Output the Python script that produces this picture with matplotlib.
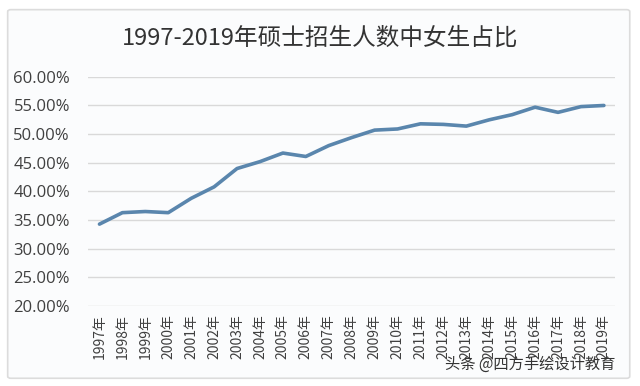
import matplotlib
matplotlib.use("Agg")
import matplotlib.pyplot as plt
from matplotlib.patches import FancyBboxPatch

plt.rcParams['font.family'] = ['Noto Sans CJK SC', 'DejaVu Sans']

# data
years = [str(y) + "年" for y in range(1997, 2020)]
female_share = [34.3, 36.3, 36.5, 36.3, 38.8, 40.8, 44.0, 45.2, 46.7, 46.1,
                48.0, 49.4, 50.7, 50.9, 51.8, 51.7, 51.4, 52.5, 53.4, 54.7,
                53.8, 54.8, 55.0]
y_ticks = [20, 25, 30, 35, 40, 45, 50, 55, 60]

fig = plt.figure(figsize=(6.4, 3.86), dpi=100)
fig.patch.set_facecolor("white")

# light card border around the chart
card = FancyBboxPatch((0.012, 0.02), 0.972, 0.955, boxstyle="round,pad=0,rounding_size=0.005",
                      transform=fig.transFigure, facecolor="#fbfcfd", edgecolor="#dcdcdc",
                      linewidth=1.2, zorder=-10)
fig.patches.append(card)

ax = fig.add_axes([0.1375, 0.207, 0.824, 0.594])
ax.set_facecolor("none")

x = list(range(len(years)))
ax.plot(x, female_share, color="#5a86ad", linewidth=2.6, solid_capstyle="round",
        solid_joinstyle="round")

ax.set_xlim(-0.5, len(years) - 0.5)
ax.set_ylim(20, 60)
ax.set_yticks(y_ticks)
ax.set_yticklabels([f"{v:.2f}%" for v in y_ticks], fontsize=12, color="#404040",
                   family=["Open Sans", "DejaVu Sans"])
ax.set_xticks(x)
ax.set_xticklabels(years, rotation=90, fontsize=10, color="#404040")
ax.grid(axis="y", color="#d9d9d9", linewidth=1)
ax.set_axisbelow(True)
ax.tick_params(length=0, pad=6)
ax.tick_params(axis="y", pad=13)
for s in ax.spines.values():
    s.set_visible(False)

fig.text(0.5, 0.9, "1997-2019年硕士招生人数中女生占比", ha="center", va="center",
         fontsize=17, color="#333333")

fig.text(0.962, 0.055, "头条 @四方手绘设计教育", ha="right", va="center",
         fontsize=11, color="#333333")

fig.savefig("out.png", dpi=100)
